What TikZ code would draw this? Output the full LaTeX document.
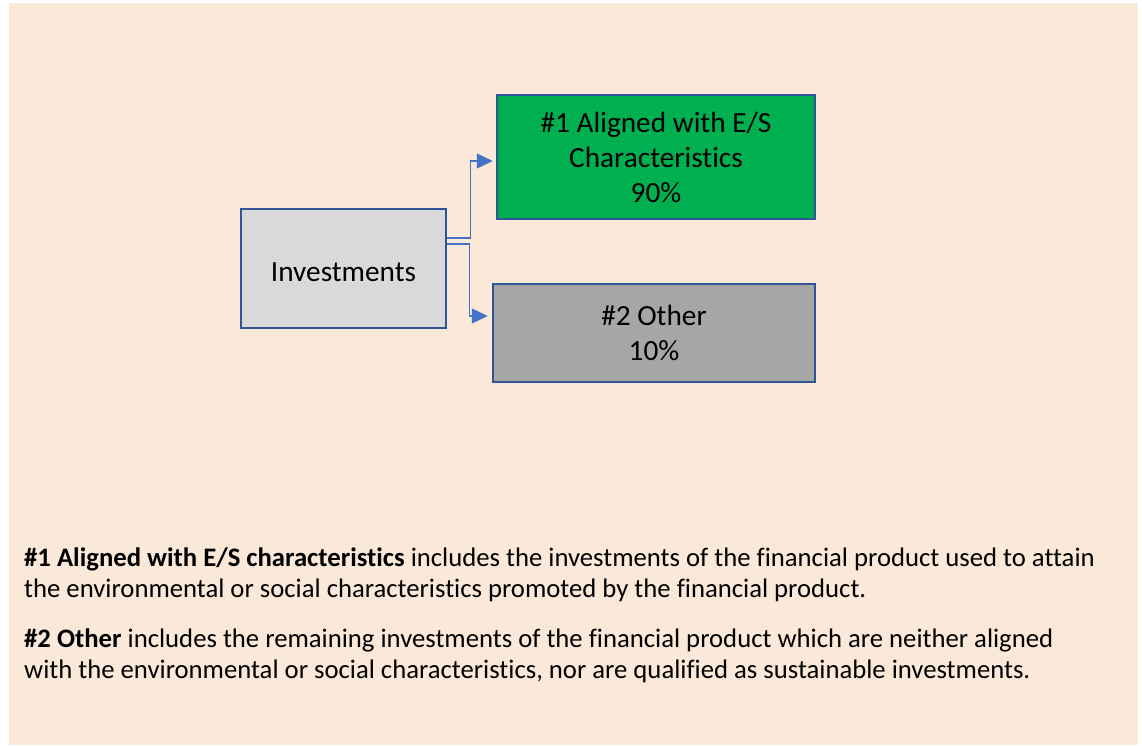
\documentclass[tikz,border=0pt]{standalone}
\usepackage{fontspec}
\setmainfont{Carlito}[Ligatures=CommonOff]
\usepackage{xcolor}
\usepackage{tikz}
\usetikzlibrary{arrows.meta,positioning,calc}
\definecolor{paper}{RGB}{250,232,216}
\definecolor{edge}{RGB}{47,85,151}
\definecolor{link}{RGB}{68,114,196}
\definecolor{esgreen}{RGB}{0,176,80}
\definecolor{lightgrey}{RGB}{217,217,217}
\definecolor{midgrey}{RGB}{166,166,166}

\begin{document}
\begin{tikzpicture}[
    x=1pt, y=-1pt,
    >={Triangle[length=16pt,width=15pt]},
    box/.style={draw=edge, line width=2.5pt, inner sep=0pt, align=center, font=\fontsize{29.3}{35}\selectfont},
    conn/.style={->, draw=link, line width=1.3pt},
    note/.style={anchor=base west, align=left, inner sep=0pt, font=\fontsize{26.7}{31}\selectfont}
]
\useasboundingbox (0,0) rectangle (1142,745);
\fill[paper] (9,3) rectangle (1138,745);

\node[box, fill=lightgrey, minimum width=205pt, minimum height=119pt, text height=26pt] (inv) at (343.5,268.5) {Investments};
\node[box, fill=esgreen, minimum width=318pt, minimum height=124pt] (aligned) at (656,157) {\#1 Aligned with E/S\\Characteristics\\90\%};
\node[box, fill=midgrey, minimum width=322pt, minimum height=98pt] (other) at (654,333) {\#2 Other\\10\%};

\draw[conn] ([yshift=30.5pt]inv.east) -- ++(23,0) |- ([xshift=-3pt,yshift=-4pt]aligned.west);
\draw[conn] ([yshift=24.5pt]inv.east) -- ++(22,0) |- ([xshift=-4pt,yshift=17pt]other.west);

\node[note] (note1) at (24,597) {\textbf{\#1 Aligned with E/S characteristics} includes the investments of the financial product used to attain\\the environmental or social characteristics promoted by the financial product.};
\node[note] (note2) at (24,678) {\textbf{\#2 Other} includes the remaining investments of the financial product which are neither aligned\\with the environmental or social characteristics, nor are qualified as sustainable investments.};
\end{tikzpicture}
\end{document}
